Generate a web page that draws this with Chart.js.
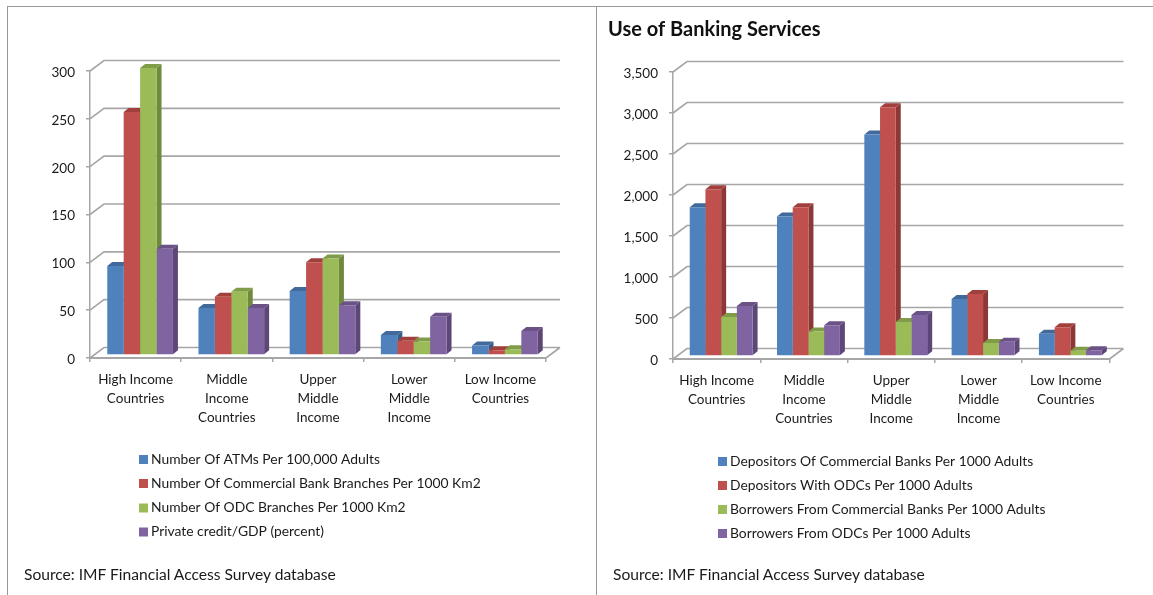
<!DOCTYPE html>
<html lang="en">

<head>
    <meta charset="UTF-8">
    <title>Access and use of banking services</title>
    <script src="https://cdn.jsdelivr.net/npm/chart.js@4/dist/chart.umd.js"></script>
    <style>
        html, body { margin: 0; padding: 0; background: #fff; overflow: hidden; }
        body { width: 1153px; height: 595px; position: relative; font-family: Lato, sans-serif; color: #1a1a1a; }
        canvas { position: absolute; top: 7px; }
        #chartAccess { left: 8px; }
        #chartUse { left: 597px; }
        .frame { position: absolute; background: #999; }
        .source { position: absolute; top: 565px; font-size: 15.6px; line-height: 18px; white-space: nowrap; }
    </style>
</head>

<body>
    <div class="frame" style="left:7px;top:6px;width:1146px;height:1px"></div>
    <div class="frame" style="left:7px;top:6px;width:1px;height:589px"></div>
    <div class="frame" style="left:596px;top:6px;width:1px;height:589px"></div>
    <canvas id="chartAccess" width="587" height="588"></canvas>
    <canvas id="chartUse" width="556" height="588"></canvas>
    <div class="source" style="left:24px">Source: IMF Financial Access Survey database</div>
    <div class="source" style="left:613px">Source: IMF Financial Access Survey database</div>

    <script>
        const categories = [
            ['High Income', 'Countries'],
            ['Middle', 'Income', 'Countries'],
            ['Upper', 'Middle', 'Income'],
            ['Lower', 'Middle', 'Income'],
            ['Low Income', 'Countries']
        ];

        // left chart
        const atms = [93, 49, 67, 21, 10];
        const bankBranches = [254, 61, 97, 15, 5];
        const odcBranches = [300, 66, 101, 14, 6];
        const privateCredit = [111, 49, 52, 40, 25];

        // right chart
        const bankDepositors = [1815, 1700, 2700, 695, 270];
        const odcDepositors = [2035, 1815, 3035, 756, 350];
        const bankBorrowers = [475, 300, 415, 158, 65];
        const odcBorrowers = [610, 375, 500, 175, 70];

        const faceColors = ['#4f81bd', '#c0504d', '#9bbb59', '#8064a2'];
        const sideColors = ['#385d8a', '#8c3836', '#6f8a3b', '#5c4776'];
        const capColors = ['#41699c', '#a03f3c', '#809c49', '#6a5287'];
        const lineColor = '#a6a6a6';
        const textColor = '#1a1a1a';
        const fontFamily = 'Lato, sans-serif';

        // fake 3D: back wall, bar sides, bar caps, all taken from the chart's scales
        const wallX = 14, wallY = 10.5;
        const barX = 4.5, barY = 3;
        const depthX = 5, depthY = 4;

        const box3d = {
            id: 'box3d',
            beforeDatasetsDraw(chart) {
                const { ctx, scales: { x, y } } = chart;
                ctx.save();
                ctx.strokeStyle = lineColor;
                ctx.lineWidth = 1.6;
                ctx.beginPath();
                y.ticks.forEach((t) => {
                    const py = y.getPixelForValue(t.value);
                    ctx.moveTo(x.left, py);
                    ctx.lineTo(x.left + wallX, py - wallY);
                    ctx.lineTo(x.right + wallX, py - wallY);
                });
                const floor = y.getPixelForValue(0);
                ctx.moveTo(x.right, floor);
                ctx.lineTo(x.right + wallX, floor - wallY);
                ctx.stroke();
                ctx.restore();

                // shift the bars onto the floor, stays on until afterDatasetsDraw
                ctx.save();
                ctx.translate(barX, -barY);

                // sides and caps go under every front face
                chart.data.datasets.forEach((ds, i) => {
                    chart.getDatasetMeta(i).data.forEach((bar) => {
                        const left = bar.x - bar.width / 2;
                        const right = bar.x + bar.width / 2;
                        ctx.fillStyle = sideColors[i];
                        ctx.beginPath();
                        ctx.moveTo(right, bar.y);
                        ctx.lineTo(right + depthX, bar.y - depthY);
                        ctx.lineTo(right + depthX, bar.base - depthY);
                        ctx.lineTo(right, bar.base);
                        ctx.closePath();
                        ctx.fill();
                        ctx.fillStyle = capColors[i];
                        ctx.beginPath();
                        ctx.moveTo(left, bar.y);
                        ctx.lineTo(left + depthX, bar.y - depthY);
                        ctx.lineTo(right + depthX, bar.y - depthY);
                        ctx.lineTo(right, bar.y);
                        ctx.closePath();
                        ctx.fill();
                    });
                });
            },
            afterDatasetsDraw(chart) {
                chart.ctx.restore();
            }
        };

        const stackLegend = {
            id: 'stackLegend',
            afterDraw(chart, args, opts) {
                const ctx = chart.ctx;
                ctx.save();
                ctx.font = opts.fontSize + 'px ' + fontFamily;
                ctx.textBaseline = 'middle';
                chart.data.datasets.forEach((ds, i) => {
                    const rowY = opts.rows[i];
                    ctx.fillStyle = faceColors[i];
                    ctx.fillRect(opts.x, rowY - 4.5, 9, 9);
                    ctx.fillStyle = textColor;
                    ctx.fillText(ds.label, opts.x + 12, rowY);
                });
                ctx.restore();
            }
        };

        function makeDatasets(labels, series) {
            return series.map((values, i) => ({
                label: labels[i],
                data: values,
                backgroundColor: faceColors[i],
                categoryPercentage: 0.72,
                barPercentage: 1
            }));
        }

        function makeChart(id, labels, series, yMax, yStep, layout, legend, title) {
            return new Chart(document.getElementById(id), {
                type: 'bar',
                data: { labels: categories, datasets: makeDatasets(labels, series) },
                plugins: [box3d, stackLegend],
                options: {
                    responsive: false,
                    animation: false,
                    layout: { padding: layout.padding },
                    scales: {
                        x: {
                            grid: { drawOnChartArea: false, tickLength: 4, color: lineColor, lineWidth: 1.5, offset: true },
                            border: { color: lineColor, width: 2 },
                            ticks: {
                                color: textColor, maxRotation: 0, autoSkip: false, padding: 8,
                                font: { family: fontFamily, size: 13.5, lineHeight: 1.42 }
                            },
                            afterFit: (s) => { s.height = layout.xHeight; }
                        },
                        y: {
                            min: 0, max: yMax,
                            grid: { drawOnChartArea: false, tickLength: 4, color: lineColor, lineWidth: 1.5 },
                            border: { color: lineColor, width: 1.5 },
                            ticks: {
                                stepSize: yStep, color: textColor, padding: 11, labelOffset: 1.5,
                                font: { family: fontFamily, size: 13.5 },
                                callback: (v) => v.toLocaleString('en-US')
                            },
                            afterFit: (s) => { s.width = layout.yWidth; }
                        }
                    },
                    plugins: {
                        legend: { display: false },
                        tooltip: { enabled: false },
                        title: title,
                        stackLegend: legend
                    }
                }
            });
        }

        makeChart('chartAccess',
            ['Number Of ATMs Per 100,000 Adults', 'Number Of Commercial Bank Branches Per 1000 Km2',
                'Number Of ODC Branches Per 1000 Km2', 'Private credit/GDP (percent)'],
            [atms, bankBranches, odcBranches, privateCredit],
            300, 50,
            { padding: { top: 64, right: 49, left: 0, bottom: 0 }, xHeight: 237, yWidth: 82 },
            { x: 131, rows: [452.5, 476.5, 501, 525], fontSize: 13.85 },
            { display: false });

        makeChart('chartUse',
            ['Depositors Of Commercial Banks Per 1000 Adults', 'Depositors With ODCs Per 1000 Adults',
                'Borrowers From Commercial Banks Per 1000 Adults', 'Borrowers From ODCs Per 1000 Adults'],
            [bankDepositors, odcDepositors, bankBorrowers, odcBorrowers],
            3500, 500,
            { padding: { top: 0, right: 43.5, left: 11, bottom: 0 }, xHeight: 236, yWidth: 65 },
            { x: 121, rows: [454.5, 478.5, 502.5, 526.5], fontSize: 13.85 },
            {
                display: true, text: 'Use of Banking Services', align: 'start', color: '#111',
                font: { family: fontFamily, size: 20, weight: 'bold', lineHeight: 1.2 },
                padding: { top: 11, bottom: 30 }
            });
    </script>

</body>

</html>
